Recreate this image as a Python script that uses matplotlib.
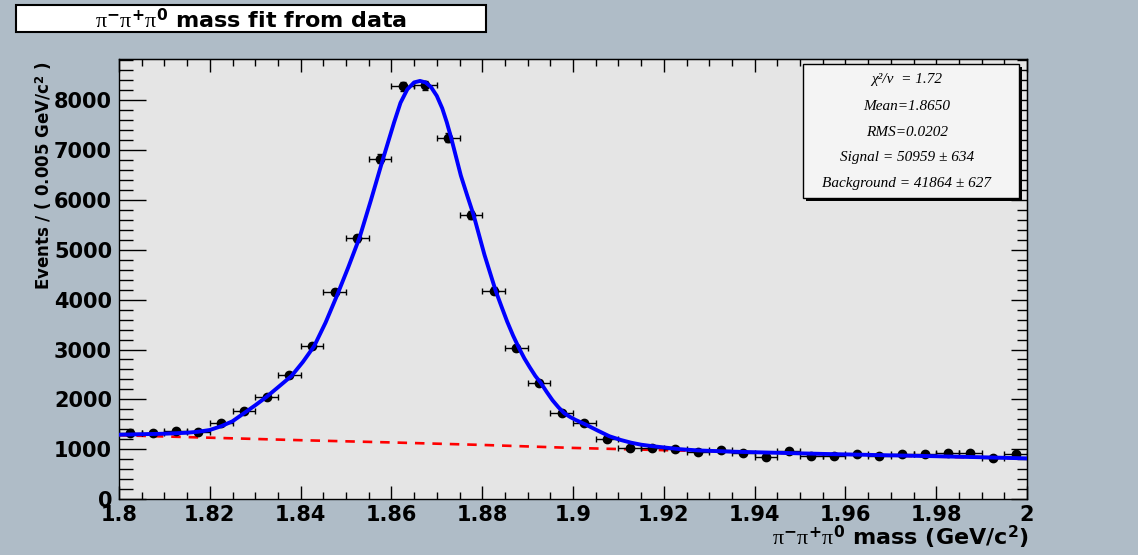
"""pi- pi+ pi0 invariant mass fit, ROOT-style canvas."""

import matplotlib
matplotlib.use("Agg")
import matplotlib.pyplot as plt
import numpy as np
from matplotlib.patches import Rectangle
from matplotlib.ticker import MultipleLocator, FormatStrFormatter

# Data: bin centres (GeV/c^2) and events per 0.005 GeV/c^2
mass = [1.8025, 1.8075, 1.8125, 1.8175, 1.8225, 1.8275, 1.8325, 1.8375,
        1.8425, 1.8475, 1.8525, 1.8575, 1.8625, 1.8675, 1.8725, 1.8775,
        1.8825, 1.8875, 1.8925, 1.8975, 1.9025, 1.9075, 1.9125, 1.9175,
        1.9225, 1.9275, 1.9325, 1.9375, 1.9425, 1.9475, 1.9525, 1.9575,
        1.9625, 1.9675, 1.9725, 1.9775, 1.9825, 1.9875, 1.9925, 1.9975]
events = [1320, 1333, 1367, 1347, 1533, 1760, 2047, 2480,
          3067, 4153, 5233, 6833, 8280, 8300, 7253, 5700,
          4180, 3033, 2333, 1733, 1520, 1213, 1033, 1020,
          1000, 947, 987, 933, 847, 967, 867, 867,
          900, 867, 900, 900, 933, 933, 820, 900]
half_bin = 0.0025

# Total fit curve (signal + background)
fit_x = [1.800, 1.805, 1.810, 1.815, 1.8175, 1.820, 1.8225, 1.825, 1.8275,
         1.830, 1.8325, 1.835, 1.838, 1.8405, 1.843, 1.8455, 1.848, 1.8505,
         1.853, 1.8555, 1.858, 1.8606, 1.862, 1.8635, 1.865, 1.8663, 1.8675,
         1.8687, 1.870, 1.8712, 1.8722, 1.8731, 1.8742, 1.8753, 1.8767,
         1.8781, 1.8793, 1.8805, 1.8818, 1.883, 1.8843, 1.8855, 1.8868,
         1.8881, 1.8893, 1.8905, 1.8917, 1.8929, 1.8942, 1.8955, 1.8968,
         1.8981, 1.8993, 1.9005, 1.9029, 1.9055, 1.908, 1.9105, 1.9128,
         1.915, 1.9175, 1.920, 1.9235, 1.9275, 1.935, 1.943, 1.955, 1.968,
         1.980, 1.990, 2.000]
fit_y = [1290, 1300, 1310, 1330, 1350, 1385, 1460, 1560, 1720,
         1880, 2050, 2240, 2470, 2750, 3070, 3540, 4080, 4650,
         5250, 6000, 6780, 7560, 7950, 8220, 8360, 8390, 8360,
         8270, 8090, 7840, 7560, 7270, 6880, 6490, 6090,
         5700, 5300, 4900, 4520, 4170, 3850, 3560, 3280,
         3030, 2820, 2640, 2470, 2330, 2150, 1980, 1840,
         1720, 1650, 1590, 1490, 1370, 1260, 1185, 1130,
         1090, 1060, 1035, 1000, 975, 950, 932, 905, 880,
         858, 838, 815]

# Background component
bkg_x = [1.80, 1.82, 1.84, 1.86, 1.88, 1.90, 1.92, 1.94, 1.96, 1.98, 2.00]
bkg_y = [1280, 1230, 1180, 1135, 1085, 1025, 980, 935, 890, 850, 810]

stats_lines = ["χ²/ν  = 1.72", "Mean=1.8650", "RMS=0.0202",
               "Signal = 50959 ± 634", "Background = 41864 ± 627"]

W, H = 1138, 555
frame_color = "#afbcc7"
pad_color = "#e5e5e5"

plt.rcParams["mathtext.fontset"] = "custom"
plt.rcParams["mathtext.rm"] = "Liberation Serif"
plt.rcParams["mathtext.it"] = "Liberation Serif:italic"
plt.rcParams["mathtext.bf"] = "DejaVu Sans:bold"

fig = plt.figure(figsize=(W / 100, H / 100), dpi=100, facecolor=frame_color)
ax = fig.add_axes([119 / W, 1 - 499 / H, 908 / W, 440 / H])
ax.set_facecolor(pad_color)

ax.plot(bkg_x, bkg_y, color="#ff0000", lw=1.9, dashes=(3.6, 3.0), zorder=3)
ax.errorbar(mass, events, xerr=half_bin, yerr=np.sqrt(events), fmt="o",
            color="black", ms=6, elinewidth=1, capsize=2.2, capthick=1,
            zorder=4)
ax.plot(fit_x, fit_y, color="#0000ff", lw=2.8, zorder=5)

ax.set_xlim(1.8, 2.0)
ax.set_ylim(0, 8830)

ax.xaxis.set_major_locator(MultipleLocator(0.02))
ax.xaxis.set_minor_locator(MultipleLocator(0.005))
ax.xaxis.set_major_formatter(FormatStrFormatter("%g"))
ax.yaxis.set_major_locator(MultipleLocator(1000))
ax.yaxis.set_minor_locator(MultipleLocator(200))

ax.tick_params(axis="x", which="major", direction="in", length=9.5, width=1,
               pad=4)
ax.tick_params(axis="x", which="minor", direction="in", length=5, width=1)
ax.tick_params(axis="y", which="major", direction="in", length=19.5, width=1,
               pad=5)
ax.tick_params(axis="y", which="minor", direction="in", length=10, width=1)
for lab in ax.get_xticklabels() + ax.get_yticklabels():
    lab.set_family("DejaVu Sans")
    lab.set_weight("bold")
    lab.set_fontsize(15)

# mirrored ticks on top and right
top = ax.secondary_xaxis("top")
top.xaxis.set_major_locator(MultipleLocator(0.02))
top.xaxis.set_minor_locator(MultipleLocator(0.005))
top.tick_params(which="major", direction="in", length=9.5, width=1,
                labeltop=False)
top.tick_params(which="minor", direction="in", length=5, width=1)
right = ax.secondary_yaxis("right")
right.yaxis.set_major_locator(MultipleLocator(1000))
right.yaxis.set_minor_locator(MultipleLocator(200))
right.tick_params(which="major", direction="in", length=11.5, width=1,
                  labelright=False)
right.tick_params(which="minor", direction="in", length=7, width=1)

for sp in ax.spines.values():
    sp.set_linewidth(1)

pis = r"$\mathrm{\pi}^{\mathbf{-}}\mathrm{\pi}^{\mathbf{+}}\mathrm{\pi}^{\mathbf{0}}$"

# axis titles
fig.text(1029 / W, 1 - 537 / H, pis + r" mass (GeV/c$^{\mathbf{2}}$)",
         ha="right", va="center", family="DejaVu Sans", weight="bold",
         size=16)
fig.text(44 / W, 1 - 176 / H, r"Events / ( 0.005 GeV/c$^{\mathbf{2}}$ )",
         rotation=90, ha="center", va="center", family="DejaVu Sans",
         weight="bold", size=12)

# title box
fig.patches.append(Rectangle((16 / W, 1 - 32 / H), 470 / W, 27 / H,
                             transform=fig.transFigure, facecolor="white",
                             edgecolor="black", lw=1.5, zorder=1))
fig.text(251 / W, 1 - 19 / H, pis + " mass fit from data",
         ha="center", va="center", family="DejaVu Sans", weight="bold",
         size=16, zorder=2)

# stats box with shadow
bx0, by0, bx1, by1 = 803, 64, 1019, 198
fig.patches.append(Rectangle(((bx0 + 3) / W, 1 - (by1 + 3) / H),
                             (bx1 - bx0) / W, (by1 - by0) / H,
                             transform=fig.transFigure, facecolor="black",
                             edgecolor="none", zorder=6))
fig.patches.append(Rectangle((bx0 / W, 1 - by1 / H), (bx1 - bx0) / W,
                             (by1 - by0) / H, transform=fig.transFigure,
                             facecolor="#f4f4f4", edgecolor="black", lw=1,
                             zorder=7))
line_y = [79, 106, 132, 158, 184]
for txt, yy in zip(stats_lines, line_y):
    fig.text(907 / W, 1 - yy / H, txt, ha="center", va="center",
             family="Liberation Serif", style="italic", size=11, zorder=8)

fig.savefig("out.png", dpi=100, facecolor=frame_color)
